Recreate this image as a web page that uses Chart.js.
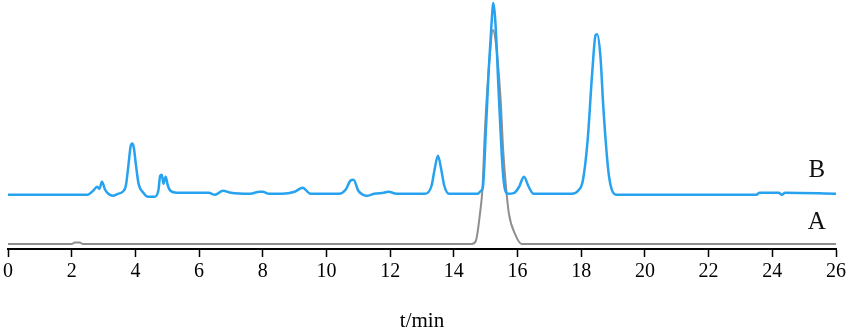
<!DOCTYPE html>
<html>
<head>
<meta charset="utf-8">
<script src="https://cdn.jsdelivr.net/npm/chart.js@4/dist/chart.umd.min.js"></script>
<style>
  html, body { margin: 0; padding: 0; background: #fff; }
  #wrap { width: 850px; height: 332px; position: relative; }
</style>
</head>
<body>
<div id="wrap"><canvas id="chromatogram"></canvas></div>
<script>
// trace B (blue) - retention time (min) and detector signal
const timeB = [0, 2.5, 2.6, 2.7, 2.8, 2.87, 2.95, 3.05, 3.15, 3.3,
  3.45, 3.6, 3.7, 3.78, 3.85, 3.9, 3.95, 4.02, 4.1, 4.25,
  4.4, 4.6, 4.72, 4.78, 4.83, 4.88, 4.95, 5.02, 5.1, 5.3,
  6.3, 6.5, 6.75, 7.0, 7.6, 7.9, 8.0, 8.2, 8.6, 9.0,
  9.25, 9.5, 10.4, 10.6, 10.75, 10.85, 11.0, 11.15, 11.3, 11.5,
  11.8, 11.95, 12.2, 13.1, 13.3, 13.4, 13.5, 13.6, 13.7, 13.85,
  14.75, 14.85, 14.91, 15.01, 15.1, 15.18, 15.24, 15.3, 15.42, 15.53,
  15.6, 15.7, 15.9, 16.05, 16.2, 16.35, 16.5, 17.7, 17.9, 18.05,
  18.2, 18.35, 18.45, 18.5, 18.6, 18.7, 18.85, 18.95, 19.1, 23.5,
  23.6, 24.2, 24.3, 24.4, 26];
const signalB = [54, 54, 56, 59, 62, 60, 67, 59, 55, 53,
  55, 57, 63, 83, 102, 105, 101, 83, 65, 56,
  52, 52, 58, 73, 74, 65, 72, 63, 58, 56,
  56, 54, 58, 56, 55, 57, 57, 55, 55, 57,
  61, 55, 55, 59, 68, 69, 58, 54, 53, 55,
  56, 57, 55, 55, 63, 80, 93, 80, 63, 55,
  55, 58, 61, 121, 181, 223, 245, 228, 148, 81,
  60, 55, 56, 62, 72, 62, 55, 55, 58, 68,
  108, 178, 213, 214, 193, 138, 78, 60, 54, 54,
  56, 56, 54, 56, 55];

// trace A (gray)
const timeA = [0, 2.0, 2.1, 2.25, 2.35, 14.45, 14.56, 14.69, 14.82, 14.9,
  14.98, 15.1, 15.23, 15.32, 15.47, 15.55, 15.64, 15.73, 15.92, 16.13, 26];
const signalA = [5, 5, 6.5, 6.5, 5, 5, 5, 8, 35, 61,
  121, 181, 218, 205, 148, 98, 61, 35, 15, 5, 5];

const seriesNames = ["A", "B"];
const xTicks = [0, 2, 4, 6, 8, 10, 12, 14, 16, 18, 20, 22, 24, 26];

const toPoints = (t, s) => t.map((x, i) => ({ x: x, y: s[i] }));

// series letters at the right end of each trace
const traceLabels = {
  id: "traceLabels",
  afterDatasetsDraw(chart) {
    const { ctx, scales } = chart;
    const spots = [26, 78]; // signal level for A, B
    ctx.save();
    ctx.fillStyle = "#111";
    ctx.font = "25px 'Liberation Serif', serif";
    ctx.textAlign = "center";
    ctx.textBaseline = "middle";
    seriesNames.forEach((name, i) => {
      ctx.fillText(name, scales.x.getPixelForValue(25.4), scales.y.getPixelForValue(spots[i]));
    });
    ctx.restore();
  },
};

new Chart(document.querySelector("#chromatogram").getContext("2d"), {
  type: "line",
  data: {
    datasets: [
      {
        label: seriesNames[0],
        data: toPoints(timeA, signalA),
        borderColor: "#8e8e8e",
        borderWidth: 2,
        pointRadius: 0,
        cubicInterpolationMode: "monotone",
        order: 2,
      },
      {
        label: seriesNames[1],
        data: toPoints(timeB, signalB),
        borderColor: "#27a2ef",
        borderWidth: 2.5,
        pointRadius: 0,
        cubicInterpolationMode: "monotone",
        order: 1,
      },
    ],
  },
  options: {
    responsive: true,
    maintainAspectRatio: false,
    animation: false,
    layout: { padding: { left: 8, right: 14, top: 0, bottom: 0 } },
    plugins: { legend: { display: false }, tooltip: { enabled: false } },
    scales: {
      x: {
        type: "linear",
        min: 0,
        max: 26,
        afterBuildTicks: (axis) => {
          axis.ticks = xTicks.map((v) => ({ value: v }));
        },
        grid: {
          drawOnChartArea: false,
          drawTicks: true,
          tickLength: 8,
          tickColor: "#000",
          tickWidth: 1.5,
        },
        border: { display: true, color: "#000", width: 2 },
        ticks: {
          color: "#000",
          padding: 3,
          maxRotation: 0,
          autoSkip: false,
          font: { family: "'Liberation Serif', serif", size: 20 },
        },
        title: {
          display: true,
          text: "t/min",
          color: "#000",
          font: { family: "'Liberation Serif', serif", size: 21, lineHeight: 1 },
          padding: { top: 24, bottom: 0 },
        },
      },
      y: {
        display: false,
        min: 0,
        max: 248,
      },
    },
  },
  plugins: [traceLabels],
});
</script>
</body>
</html>
